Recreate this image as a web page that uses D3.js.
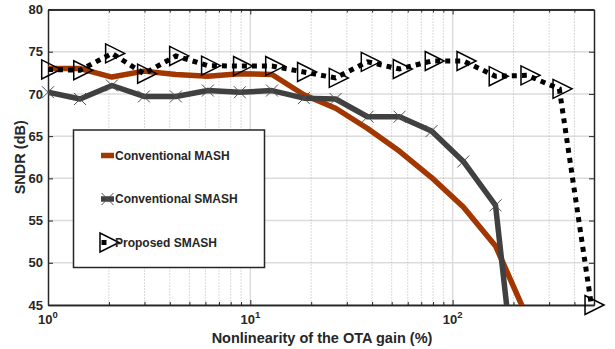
<!DOCTYPE html>
<html>
<meta charset="utf-8">
<head>
  <script src="https://d3js.org/d3.v7.js"></script>
  <style>
    body { margin: 0; background: #fff; }
    text { font-family: Arial, "Liberation Sans", Helvetica, sans-serif; font-weight: bold; fill: #262626; }
  </style>
</head>
<body>
<svg id="graph" width="615" height="349"></svg>
<script>
  // nonlinearity (%) sample points, shared by all curves
  var xVals = [1, 1.44, 2.07, 2.98, 4.29, 6.17, 8.88, 12.8, 18.4, 26.4, 38.0, 54.7, 78.7, 113, 163, 234, 337, 485];
  var mashVals = [73.0, 73.0, 72.0, 72.7, 72.3, 72.1, 72.4, 72.3, 69.9, 68.3, 65.9, 63.2, 60.1, 56.6, 52.0, 43.5];
  var smashVals = [70.2, 69.4, 71.0, 69.7, 69.7, 70.4, 70.2, 70.4, 69.5, 69.4, 67.3, 67.3, 65.6, 62.0, 56.8, 23];
  var propVals = [72.9, 72.8, 74.8, 72.4, 74.5, 73.35, 73.3, 73.3, 72.6, 71.9, 73.8, 72.95, 73.9, 73.9, 72.1, 72.2, 70.6, 45];
  var seriesNames = ["Conventional MASH", "Conventional SMASH", "Proposed SMASH"];
  var yTicks = [45, 50, 55, 60, 65, 70, 75, 80];
  var xMajor = [1, 10, 100];
  var xMinor = [2, 3, 4, 5, 6, 7, 8, 9, 20, 30, 40, 50, 60, 70, 80, 90, 200, 300, 400];

  var svg = d3.select("svg#graph");
  var box = {left: 48, right: 594, top: 9.5, bottom: 305};

  var xScale = d3.scaleLog().domain([1, 500]).range([box.left, box.right]);
  var yScale = d3.scaleLinear().domain([45, 80]).range([box.bottom, box.top]);

  svg.append("defs").append("clipPath").attr("id", "clip")
    .append("rect")
    .attr("x", box.left).attr("y", box.top)
    .attr("width", box.right - box.left).attr("height", box.bottom - box.top);

  // grid
  var grid = svg.append("g");
  grid.selectAll("line.hy").data(yTicks).enter().append("line")
    .attr("x1", box.left).attr("x2", box.right)
    .attr("y1", d => yScale(d)).attr("y2", d => yScale(d))
    .attr("stroke", "#dcdcdc").attr("stroke-width", 1.5);
  grid.selectAll("line.vmaj").data(xMajor.slice(1)).enter().append("line")
    .attr("x1", d => xScale(d)).attr("x2", d => xScale(d))
    .attr("y1", box.top).attr("y2", box.bottom)
    .attr("stroke", "#dcdcdc").attr("stroke-width", 1.5);
  grid.selectAll("line.vmin").data(xMinor).enter().append("line")
    .attr("x1", d => xScale(d)).attr("x2", d => xScale(d))
    .attr("y1", box.top).attr("y2", box.bottom)
    .attr("stroke", "#b4b4b4").attr("stroke-width", 1)
    .attr("stroke-dasharray", "1,2");

  // axes (ticks point inward like matlab)
  function styleAxis(g) {
    g.selectAll("path, line").attr("stroke", "#262626");
    g.select("path.domain").attr("stroke-width", 1.5);
  }
  svg.append("g").attr("transform", `translate(0,${box.bottom})`)
    .call(d3.axisBottom(xScale).tickValues(xMajor).tickSize(-5).tickSizeOuter(0).tickFormat(""))
    .call(styleAxis);
  svg.append("g").attr("transform", `translate(0,${box.bottom})`)
    .call(d3.axisBottom(xScale).tickValues(xMinor).tickSize(-3).tickSizeOuter(0).tickFormat(""))
    .call(styleAxis);
  svg.append("g").attr("transform", `translate(0,${box.top})`)
    .call(d3.axisTop(xScale).tickValues(xMajor).tickSize(-5).tickSizeOuter(0).tickFormat(""))
    .call(styleAxis);
  svg.append("g").attr("transform", `translate(0,${box.top})`)
    .call(d3.axisTop(xScale).tickValues(xMinor).tickSize(-3).tickSizeOuter(0).tickFormat(""))
    .call(styleAxis);
  var yAxis = svg.append("g").attr("transform", `translate(${box.left},0)`)
    .call(d3.axisLeft(yScale).tickValues(yTicks).tickSize(-5).tickSizeOuter(0).tickPadding(5))
    .call(styleAxis);
  yAxis.selectAll("text").style("font-size", "13px").attr("fill", "#262626");
  svg.append("g").attr("transform", `translate(${box.right},0)`)
    .call(d3.axisRight(yScale).tickValues(yTicks).tickSize(-5).tickSizeOuter(0).tickFormat(""))
    .call(styleAxis);

  // x tick labels 10^n
  var xl = svg.selectAll("text.xtick").data(xMajor).enter().append("text")
    .attr("x", d => xScale(d)).attr("y", 324)
    .attr("text-anchor", "middle").style("font-size", "13px");
  xl.append("tspan").text("10");
  xl.append("tspan").attr("dy", -6).style("font-size", "9.5px").text(d => Math.round(Math.log10(d)));

  svg.append("text")
    .attr("x", 322).attr("y", 343)
    .attr("text-anchor", "middle").style("font-size", "14.5px")
    .text("Nonlinearity of the OTA gain (%)");
  svg.append("text")
    .attr("transform", `translate(25,${(box.top + box.bottom) / 2}) rotate(-90)`)
    .attr("text-anchor", "middle").style("font-size", "14.5px")
    .text("SNDR (dB)");

  // curves
  var line = d3.line().x(d => xScale(d[0])).y(d => yScale(d[1]));
  var plot = svg.append("g").attr("clip-path", "url(#clip)");
  var mash = mashVals.map((v, i) => [xVals[i], v]);
  var smash = smashVals.map((v, i) => [xVals[i], v]);
  var prop = propVals.map((v, i) => [xVals[i], v]);

  var orange = "#a33700", grey = "#404040";
  plot.append("path").datum(mash).attr("d", line)
    .attr("fill", "none").attr("stroke", orange).attr("stroke-width", 5.5).attr("stroke-linejoin", "round");
  plot.append("path").datum(smash).attr("d", line)
    .attr("fill", "none").attr("stroke", grey).attr("stroke-width", 5.5).attr("stroke-linejoin", "round");
  plot.append("path").datum(prop).attr("d", line)
    .attr("fill", "none").attr("stroke", "#000").attr("stroke-width", 5)
    .attr("stroke-dasharray", "5,5");

  var crossPath = "M-6,-6L6,6M-6,6L6,-6";
  var triPath = "M-6.3,-9.5L-6.3,9.5L12.7,0Z";
  svg.selectAll("path.xm").data(smash.filter(d => d[1] >= 45)).enter().append("path")
    .attr("transform", d => `translate(${xScale(d[0])},${yScale(d[1])})`)
    .attr("d", crossPath).attr("stroke", "#505050").attr("stroke-width", 1).attr("fill", "none");
  svg.selectAll("path.tm").data(prop).enter().append("path")
    .attr("transform", d => `translate(${xScale(d[0])},${yScale(d[1])})`)
    .attr("d", triPath).attr("stroke", "#000").attr("stroke-width", 1.5).attr("fill", "none");

  // legend
  var lg = svg.append("g");
  lg.append("rect").attr("x", 73.5).attr("y", 130).attr("width", 191).attr("height", 137.5)
    .attr("fill", "#fff").attr("stroke", "#262626").attr("stroke-width", 1.5);
  var rows = [155.5, 199, 242.5];
  lg.append("line").attr("x1", 101).attr("x2", 114).attr("y1", rows[0]).attr("y2", rows[0])
    .attr("stroke", orange).attr("stroke-width", 5.5);
  lg.append("line").attr("x1", 101).attr("x2", 114).attr("y1", rows[1]).attr("y2", rows[1])
    .attr("stroke", grey).attr("stroke-width", 5.5);
  lg.append("path").attr("transform", `translate(107.5,${rows[1]})`).attr("d", crossPath)
    .attr("stroke", "#505050").attr("stroke-width", 1);
  lg.append("rect").attr("x", 101.5).attr("y", rows[2] - 2.5).attr("width", 5).attr("height", 5).attr("fill", "#000");
  lg.append("path").attr("transform", `translate(106.3,${rows[2]})`).attr("d", triPath)
    .attr("stroke", "#000").attr("stroke-width", 1.5).attr("fill", "none");
  lg.selectAll("text.lt").data(seriesNames).enter().append("text")
    .attr("x", 115).attr("y", (d, i) => rows[i] + 4.2)
    .style("font-size", "12px").text(d => d);
</script>
</body>
</html>
